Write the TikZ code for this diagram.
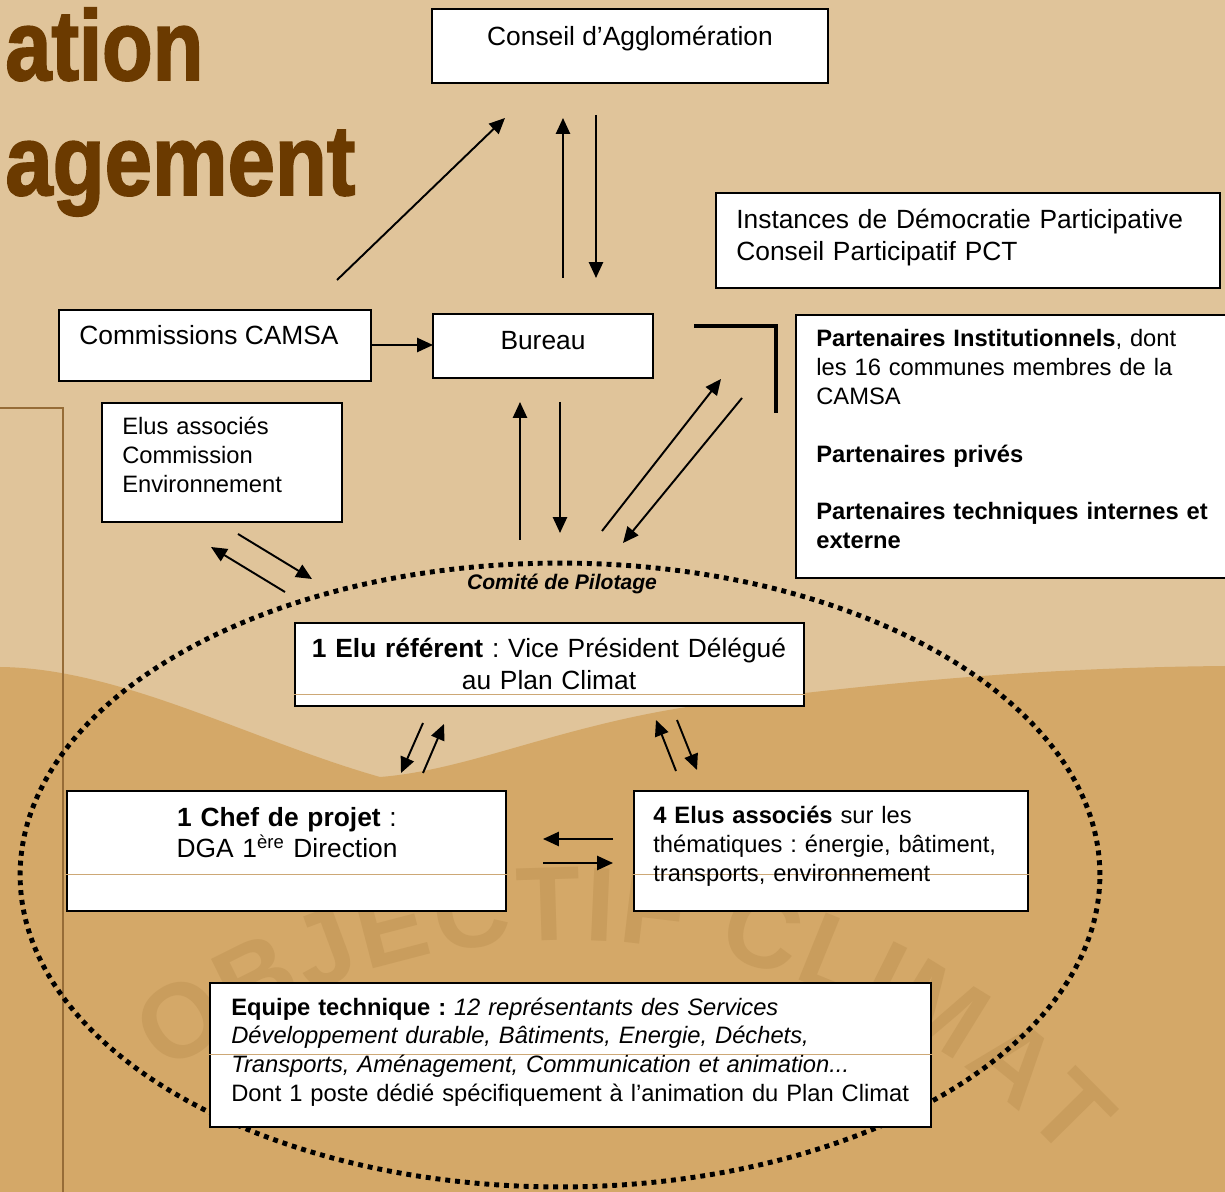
\documentclass[tikz,border=0pt]{standalone}
\usepackage{fontspec}
\setmainfont{Liberation Sans}
\newfontfamily\titlefont[FakeBold=2]{Liberation Sans Bold}
\usetikzlibrary{arrows.meta,calc,decorations.text}
\definecolor{sandlight}{RGB}{224,196,154}
\definecolor{sanddark}{RGB}{212,168,104}
\definecolor{titlebrown}{RGB}{107,58,0}
\definecolor{watermark}{RGB}{201,157,93}
\definecolor{rowcol}{RGB}{205,168,118}
\definecolor{panelcol}{RGB}{150,108,55}
\newcommand\fbig{\fontsize{15}{18.1}\selectfont}
\newcommand\fmid{\fontsize{13.5}{16.4}\selectfont}
\newcommand\ftitle{\fontsize{56.7}{60}\selectfont\titlefont}
\tikzset{
  box/.style={draw, fill=white, line width=1.2pt, inner sep=0pt},
  lbl/.style={inner sep=0pt, text width=#1, align=left},
  clbl/.style={inner sep=0pt, text width=#1, align=center},
  arr/.style={-{Triangle[length=9pt,width=8pt]}, line width=1.1pt},
  rowline/.style={rowcol, line width=0.6pt},
  dots/.style={line width=2.8pt, dash pattern=on 2.8pt off 2.8pt}
}
\frenchspacing

\begin{document}
\begin{tikzpicture}[x=0.02cm, y=-0.02cm]
  \useasboundingbox (0,0) rectangle (1225,1192);
  \clip (0,0) rectangle (1225,1192);
  % background
  \fill[sandlight] (0,0) rectangle (1225,1192);
  \fill[sanddark] (0,667) .. controls (120,668) and (250,740) .. (380,777)
    .. controls (470,770) and (560,725) .. (700,705)
    .. controls (850,688) and (1000,668) .. (1225,666) -- (1225,1192) -- (0,1192) -- cycle;
  \path[decorate, decoration={text along path, text align=fit to path, text color=watermark,
    text={|\fontsize{60}{60}\selectfont\bfseries|OBJECTIF CLIMAT}}]
    (167,1075) arc[start angle=127, end angle=42, radius=13.4cm];
  \draw[panelcol, line width=1.2pt] (0,408) -- (63,408) -- (63,1192);

  % title
  \node[anchor=base west, inner sep=0pt, titlebrown, font=\ftitle] (titleA) at (5,80) {\resizebox{3.96cm}{\height}{ation}};
  \node[anchor=base west, inner sep=0pt, titlebrown, font=\ftitle] (titleB) at (5,195) {\resizebox{7cm}{\height}{agement}};

  % comite de pilotage
  \draw[dots] (560,875) ellipse [x radius=10.8cm, y radius=6.24cm];
  \node[anchor=base, inner sep=0pt, font=\fontsize{12}{14}\selectfont\bfseries\itshape] (comite) at (562,590) {Comité de Pilotage};

  % boxes
  \node[box, minimum width=7.92cm, minimum height=1.48cm] (conseil) at (630,46) {};
  \node[box, minimum width=10.08cm, minimum height=1.9cm] (instances) at (968,240.5) {};
  \node[box, minimum width=6.24cm, minimum height=1.42cm] (comm) at (215,345.5) {};
  \node[box, minimum width=4.4cm, minimum height=1.28cm] (bureau) at (543,346) {};
  \node[box, minimum width=8.88cm, minimum height=5.26cm] (partners) at (1018,446.5) {};
  \node[box, minimum width=4.8cm, minimum height=2.38cm] (elusenv) at (222,462.5) {};
  \node[box, minimum width=10.18cm, minimum height=1.66cm] (referent) at (549.5,664.5) {};
  \node[box, minimum width=8.78cm, minimum height=2.4cm] (chef) at (286.5,851) {};
  \node[box, minimum width=7.88cm, minimum height=2.4cm] (elus) at (831,851) {};
  \node[box, minimum width=14.42cm, minimum height=2.88cm] (equipe) at (570.5,1055) {};

  \draw[rowline] ($(referent.south west)+(0,-13)$) -- ($(referent.south east)+(0,-13)$);
  \draw[rowline] ($(chef.south west)+(0,-38)$) -- ($(chef.south east)+(0,-38)$);
  \draw[rowline] ($(elus.south west)+(0,-38)$) -- ($(elus.south east)+(0,-38)$);
  \draw[rowline] ($(equipe.south west)+(0,-74)$) -- ($(equipe.south east)+(0,-74)$);

  % texts
  \node[anchor=base, inner sep=0pt, font=\fbig] (conseilT) at (630,46) {Conseil d’Agglomération};
  \node[lbl=9.6cm, anchor=base west, font=\fbig] (instancesT) at (736,229)
    {Instances de Démocratie Participative\\Conseil Participatif PCT};
  \node[anchor=base west, inner sep=0pt, font=\fbig] (commT) at (79,345) {Commissions CAMSA};
  \node[anchor=base, inner sep=0pt, font=\fbig] (bureauT) at (543,350) {Bureau};
  \node[lbl=8.2cm, anchor=base west, font=\fmid] (partnersT) at (816,347)
    {\textbf{Partenaires Institutionnels}, dont\\les 16 communes membres de la\\CAMSA\\[16.4pt]
     \textbf{Partenaires privés}\\[16.4pt]
     \textbf{Partenaires techniques internes et}\\\textbf{externe}};
  \node[lbl=4.4cm, anchor=base west, font=\fmid] (elusenvT) at (122,435)
    {Elus associés\\Commission\\Environnement};
  \node[clbl=9.9cm, anchor=base, font=\fbig] (referentT) at (549,658)
    {\textbf{1 Elu référent} : Vice Président Délégué\\au Plan Climat};
  \node[clbl=8.4cm, anchor=base, font=\fontsize{15}{17.6}\selectfont] (chefT) at (287,827)
    {\textbf{1 Chef de projet} :\\DGA 1\textsuperscript{ère} Direction};
  \node[lbl=7.4cm, anchor=base west, font=\fmid] (elusT) at (653,824)
    {\textbf{4 Elus associés} sur les\\thématiques : énergie, bâtiment,\\transports, environnement};
  \node[lbl=14cm, anchor=base west, font=\fmid] (equipeT) at (231,1015)
    {\textbf{Equipe technique :} \textit{12 représentants des Services}\\
     \textit{Développement durable, Bâtiments, Energie, Déchets,}\\
     \textit{Transports, Aménagement, Communication et animation...}\\
     Dont 1 poste dédié spécifiquement à l’animation du Plan Climat};

  % arrow ends
  \foreach \n/\x/\y in {s1/337/280, e1/505/118, s2/563/278, e2/563/118, s3/596/115, e3/596/278,
      s4/371/345, e4/433/345, s5/520/540, e5/520/402, s6/560/402, e6/560/533,
      s7/602/531, e7/721/379, s8/742/398, e8/623/543, s9/285/592, e9/211/547,
      s10/238/534, e10/312/579, s11/423/723, e11/401/773, s12/423/773, e12/444/724,
      s13/676/771, e13/656/720, s14/677/720, e14/697/770, s15/613/839, e15/543/839,
      s16/543/863, e16/613/863}
    \coordinate (\n) at (\x,\y);
  \foreach \i in {1,...,16}
    \draw[arr] (s\i) -- (e\i);

  \coordinate (k1) at (694,326);
  \coordinate (k2) at (776,326);
  \coordinate (k3) at (776,413);
  \draw[line width=2.4pt] (k1) -- (k2) -- (k3);
\end{tikzpicture}
\end{document}
